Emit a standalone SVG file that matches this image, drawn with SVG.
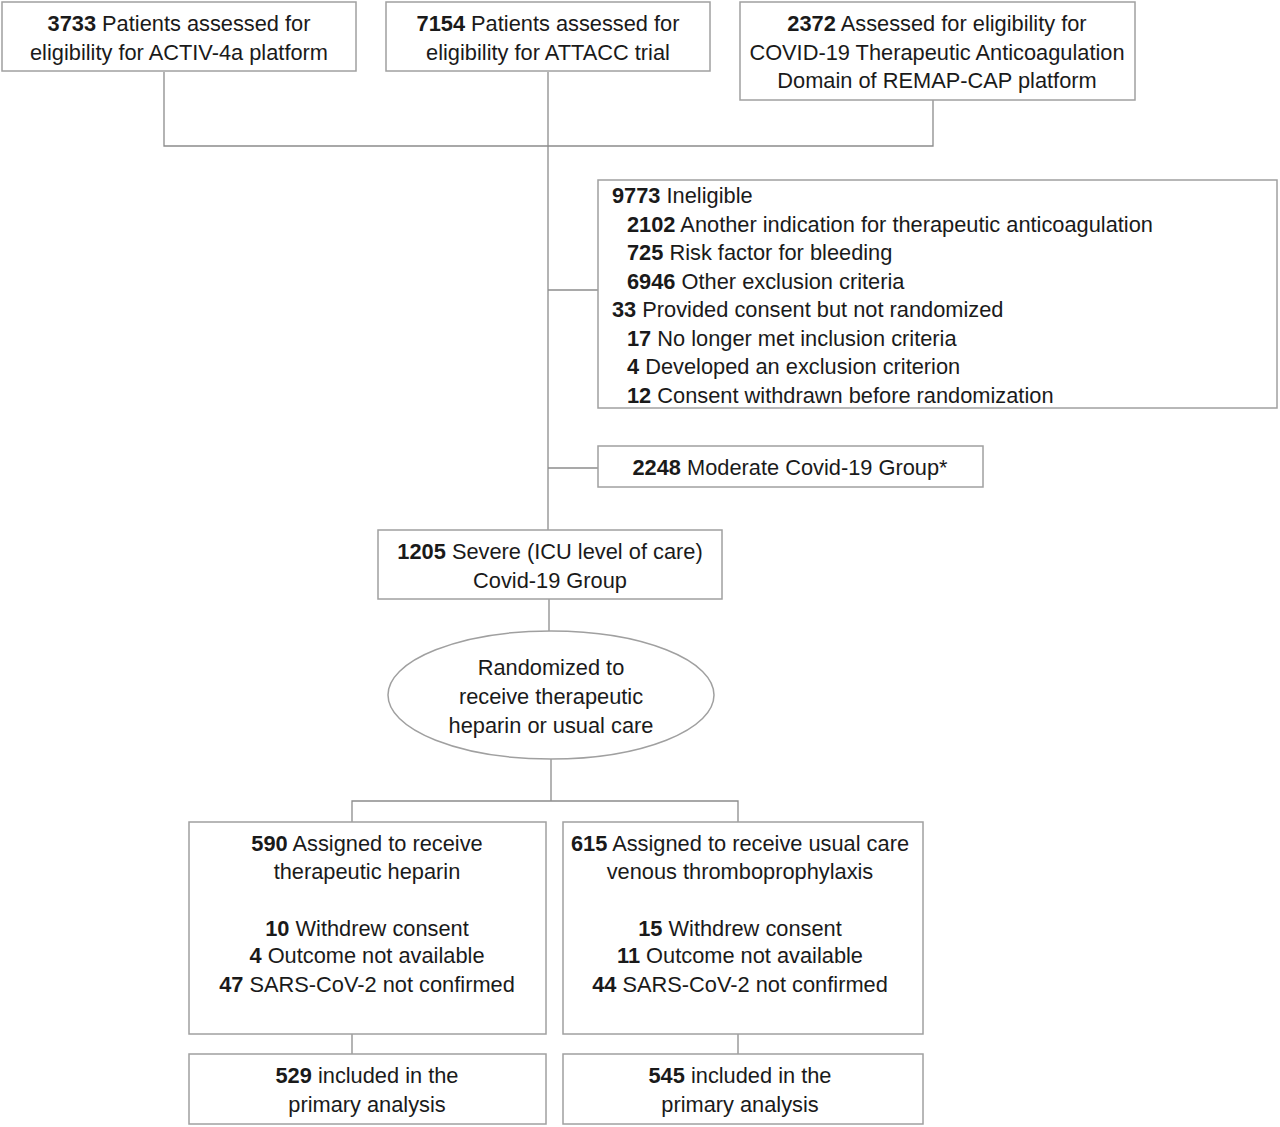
<svg xmlns="http://www.w3.org/2000/svg" width="1280" height="1127" viewBox="0 0 1280 1127">
<style>
.box{fill:#fff;stroke:#a0a0a0;stroke-width:1.5}
.ln{fill:none;stroke:#8c8c8c;stroke-width:1.3}
text{font-family:"Liberation Sans",Arial,sans-serif;font-size:21.8px;fill:#1a1a1a}
.c{text-anchor:middle}
.b{font-weight:bold}
</style>
<rect width="1280" height="1127" fill="#fff"/>
<g id="connectors">
<polyline class="ln" points="164,72 164,146 933,146 933,100"/>
<line class="ln" x1="548" y1="72" x2="548" y2="530"/>
<line class="ln" x1="548" y1="290" x2="598" y2="290"/>
<line class="ln" x1="548" y1="468" x2="598" y2="468"/>
<line class="ln" x1="549" y1="599" x2="549" y2="631"/>
<line class="ln" x1="551" y1="759" x2="551" y2="801"/>
<polyline class="ln" points="352,822 352,801 738,801 738,822"/>
<line class="ln" x1="352" y1="1034" x2="352" y2="1054"/>
<line class="ln" x1="738" y1="1034" x2="738" y2="1054"/>
</g>
<g id="n-activ">
<rect class="box" x="2" y="2" width="354" height="69"/>
<text class="c" x="179" y="31"><tspan class="b">3733</tspan> Patients assessed for</text>
<text class="c" x="179" y="60">eligibility for ACTIV-4a platform</text>
</g>
<g id="n-attacc">
<rect class="box" x="386" y="2" width="324" height="69"/>
<text class="c" x="548" y="31"><tspan class="b">7154</tspan> Patients assessed for</text>
<text class="c" x="548" y="60">eligibility for ATTACC trial</text>
</g>
<g id="n-remap">
<rect class="box" x="740" y="2" width="395" height="98"/>
<text class="c" x="937" y="31"><tspan class="b">2372</tspan> Assessed for eligibility for</text>
<text class="c" x="937" y="60">COVID-19 Therapeutic Anticoagulation</text>
<text class="c" x="937" y="88">Domain of REMAP-CAP platform</text>
</g>
<g id="n-ineligible">
<rect class="box" x="598" y="180" width="679" height="228"/>
<text x="612" y="203"><tspan class="b">9773</tspan> Ineligible</text>
<text x="627" y="231.5"><tspan class="b">2102</tspan> Another indication for therapeutic anticoagulation</text>
<text x="627" y="260"><tspan class="b">725</tspan> Risk factor for bleeding</text>
<text x="627" y="288.5"><tspan class="b">6946</tspan> Other exclusion criteria</text>
<text x="612" y="317"><tspan class="b">33</tspan> Provided consent but not randomized</text>
<text x="627" y="345.5"><tspan class="b">17</tspan> No longer met inclusion criteria</text>
<text x="627" y="374"><tspan class="b">4</tspan> Developed an exclusion criterion</text>
<text x="627" y="402.5"><tspan class="b">12</tspan> Consent withdrawn before randomization</text>
</g>
<g id="n-moderate">
<rect class="box" x="598" y="446" width="385" height="41"/>
<text class="c" x="790" y="475"><tspan class="b">2248</tspan> Moderate Covid-19 Group*</text>
</g>
<g id="n-severe">
<rect class="box" x="378" y="530" width="344" height="69"/>
<text class="c" x="550" y="559"><tspan class="b">1205</tspan> Severe (ICU level of care)</text>
<text class="c" x="550" y="588">Covid-19 Group</text>
</g>
<g id="n-random">
<ellipse class="box" cx="551" cy="695" rx="163" ry="64"/>
<text class="c" x="551" y="675">Randomized to</text>
<text class="c" x="551" y="704">receive therapeutic</text>
<text class="c" x="551" y="733">heparin or usual care</text>
</g>
<g id="n-heparin">
<rect class="box" x="189" y="822" width="357" height="212"/>
<text class="c" x="367" y="851"><tspan class="b">590</tspan> Assigned to receive</text>
<text class="c" x="367" y="879">therapeutic heparin</text>
<text class="c" x="367" y="936"><tspan class="b">10</tspan> Withdrew consent</text>
<text class="c" x="367" y="963"><tspan class="b">4</tspan> Outcome not available</text>
<text class="c" x="367" y="992"><tspan class="b">47</tspan> SARS-CoV-2 not confirmed</text>
</g>
<g id="n-usual">
<rect class="box" x="563" y="822" width="360" height="212"/>
<text class="c" x="740" y="851"><tspan class="b">615</tspan> Assigned to receive usual care</text>
<text class="c" x="740" y="879">venous thromboprophylaxis</text>
<text class="c" x="740" y="936"><tspan class="b">15</tspan> Withdrew consent</text>
<text class="c" x="740" y="963"><tspan class="b">11</tspan> Outcome not available</text>
<text class="c" x="740" y="992"><tspan class="b">44</tspan> SARS-CoV-2 not confirmed</text>
</g>
<g id="n-incl-heparin">
<rect class="box" x="189" y="1054" width="357" height="70"/>
<text class="c" x="367" y="1083"><tspan class="b">529</tspan> included in the</text>
<text class="c" x="367" y="1112">primary analysis</text>
</g>
<g id="n-incl-usual">
<rect class="box" x="563" y="1054" width="360" height="70"/>
<text class="c" x="740" y="1083"><tspan class="b">545</tspan> included in the</text>
<text class="c" x="740" y="1112">primary analysis</text>
</g>
</svg>
